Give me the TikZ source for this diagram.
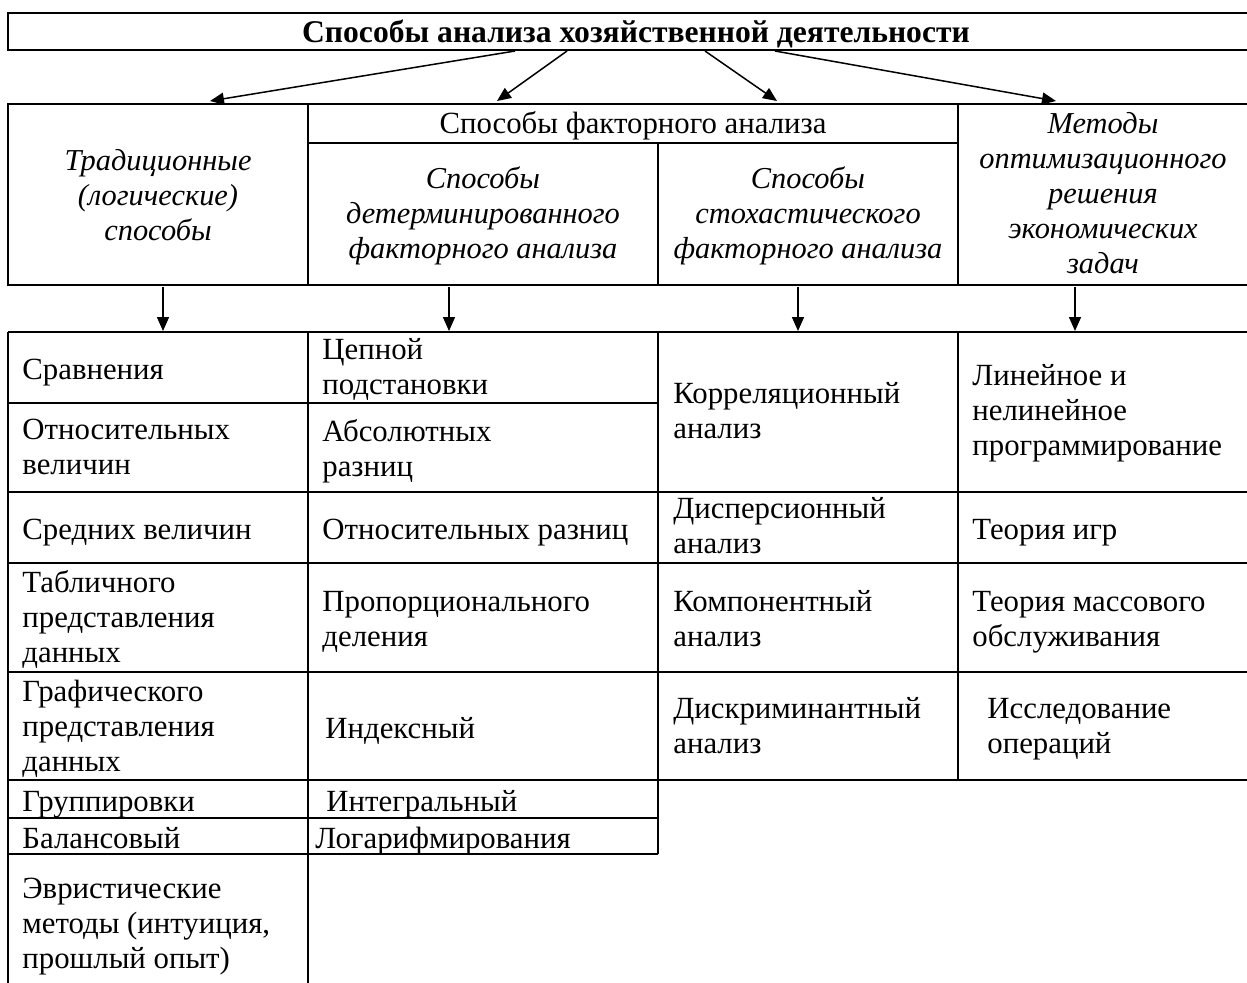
\documentclass[tikz,border=0pt]{standalone}
\usepackage{fontspec}
\setmainfont{Liberation Serif}
\usetikzlibrary{arrows.meta}
\begin{document}
\begin{tikzpicture}[x=0.5pt,y=-0.5pt,
  grid/.style={line width=1pt},
  arr/.style={line width=0.75pt,-{Triangle[length=7pt,width=6pt]}},
  cell/.style={anchor=west,align=left,inner sep=0pt,yshift=-2pt,font=\fontsize{15.4pt}{17.5pt}\selectfont,
    execute at begin node=\strut, execute at end node=\strut},
  head/.style={align=center,inner sep=0pt,yshift=-1.5pt,font=\fontsize{15.2pt}{17.5pt}\selectfont\itshape,
    execute at begin node=\strut, execute at end node=\strut},
  plainhead/.style={align=center,inner sep=0pt,yshift=-1.5pt,font=\fontsize{15.4pt}{17.5pt}\selectfont,
    execute at begin node=\strut, execute at end node=\strut},
  titlefont/.style={font=\fontsize{15.8pt}{17.5pt}\selectfont\bfseries},
]
\useasboundingbox (0,0) rectangle (1247,982);
\fill[white] (0,0) rectangle (1247,982);

% title
\draw[grid] (8,13) rectangle (1260,50);
\node[plainhead,titlefont] (title) at (636,32) {Способы анализа хозяйственной деятельности};

% second row
\draw[grid] (8,104) rectangle (1260,285);
\draw[grid] (308,104) -- (308,285);
\draw[grid] (958,104) -- (958,285);
\draw[grid] (308,143) -- (958,143);
\draw[grid] (658,143) -- (658,285);

\node[head] (trad) at (158,197) {Традиционные\\(логические)\\способы};
\node[plainhead] (fact) at (633,123) {Способы факторного анализа};
\node[head] (det) at (483,215) {Способы\\детерминированного\\факторного анализа};
\node[head] (stoch) at (808,215) {Способы\\стохастического\\факторного анализа};
\node[head] (opt) at (1103,195) {Методы\\оптимизационного\\решения\\экономических\\задач};

% arrows from title
\coordinate (s1) at (515,51); \coordinate (e1) at (210,101);
\coordinate (s2) at (567,51); \coordinate (e2) at (497,101);
\coordinate (s3) at (705,51); \coordinate (e3) at (777,101);
\coordinate (s4) at (775,51); \coordinate (e4) at (1056,101);
\draw[arr] (s1) -- (e1);
\draw[arr] (s2) -- (e2);
\draw[arr] (s3) -- (e3);
\draw[arr] (s4) -- (e4);

% down arrows
\coordinate (d1s) at (163,287); \coordinate (d1e) at (163,331);
\coordinate (d2s) at (449,287); \coordinate (d2e) at (449,331);
\coordinate (d3s) at (798,287); \coordinate (d3e) at (798,331);
\coordinate (d4s) at (1075,287); \coordinate (d4e) at (1075,331);
\draw[arr] (d1s) -- (d1e);
\draw[arr] (d2s) -- (d2e);
\draw[arr] (d3s) -- (d3e);
\draw[arr] (d4s) -- (d4e);

% table
\draw[grid] (8,332) -- (1260,332);
\draw[grid] (8,332) -- (8,995);
\draw[grid] (308,332) -- (308,995);
\draw[grid] (658,332) -- (658,854);
\draw[grid] (958,332) -- (958,780);
\draw[grid] (8,403) -- (658,403);
\foreach \yy in {492,563,672,780} {\draw[grid] (8,\yy) -- (1260,\yy);}
\draw[grid] (8,818) -- (658,818);
\draw[grid] (8,854) -- (658,854);

% column 1
\node[cell] (c1a) at (22,368) {Сравнения};
\node[cell] (c1b) at (22,448) {Относительных\\величин};
\node[cell] (c1c) at (22,528) {Средних величин};
\node[cell] (c1d) at (22,618) {Табличного\\представления\\данных};
\node[cell] (c1e) at (22,727) {Графического\\представления\\данных};
\node[cell] (c1f) at (22,800) {Группировки};
\node[cell] (c1g) at (22,837) {Балансовый};
\node[cell] (c1h) at (22,925) {Эвристические\\методы (интуиция,\\прошлый опыт)};

% column 2
\node[cell] (c2a) at (322,368) {Цепной\\подстановки};
\node[cell] (c2b) at (322,449) {Абсолютных\\разниц};
\node[cell] (c2c) at (322,528) {Относительных разниц};
\node[cell] (c2d) at (322,620) {Пропорционального\\деления};
\node[cell] (c2e) at (325,727) {Индексный};
\node[cell] (c2f) at (326,800) {Интегральный};
\node[cell] (c2g) at (315,837) {Логарифмирования};

% column 3
\node[cell] (c3a) at (673,412) {Корреляционный\\анализ};
\node[cell] (c3b) at (673,527) {Дисперсионный\\анализ};
\node[cell] (c3c) at (673,620) {Компонентный\\анализ};
\node[cell] (c3d) at (673,727) {Дискриминантный\\анализ};

% column 4
\node[cell] (c4a) at (972,411) {Линейное и\\нелинейное\\программирование};
\node[cell] (c4b) at (972,528) {Теория игр};
\node[cell] (c4c) at (972,620) {Теория массового\\обслуживания};
\node[cell] (c4d) at (987,727) {Исследование\\операций};
\end{tikzpicture}
\end{document}
